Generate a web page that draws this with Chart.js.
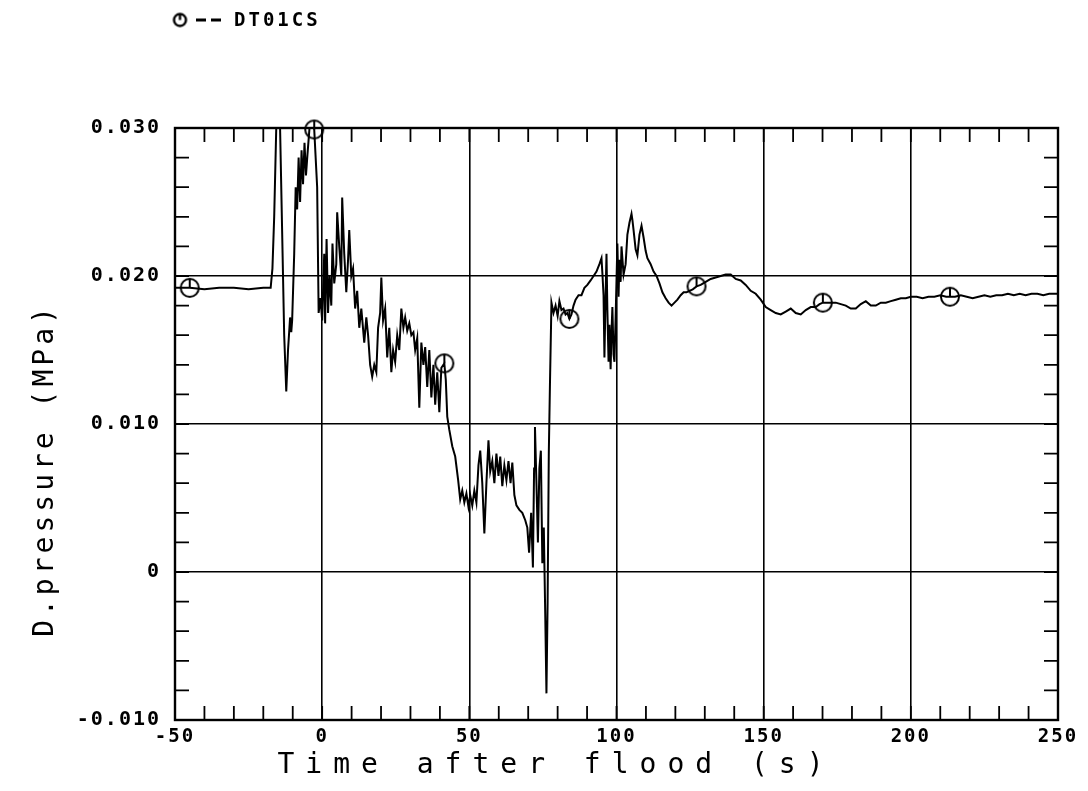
<!DOCTYPE html>
<html>
<head>
<meta charset="utf-8">
<script src="https://cdn.jsdelivr.net/npm/chart.js@4/dist/chart.umd.min.js"></script>
<style>
  html, body { margin: 0; background: #fff; }
  #wrap { width: 1088px; height: 791px; position: relative; }
</style>
</head>
<body>
<div id="wrap"><canvas id="ctx"></canvas></div>
<script>
// DT01CS differential pressure trace, time in s, pressure in MPa
const timeSec = [
  -50, -45, -40, -35, -30, -25, -20, -17.5, -16.9, -16.3, -15.6, -15.0, -14.3, -13.6, -12.9, -12.2,
  -11.6, -10.9, -10.5, -10.2, -9.5, -9.0, -8.5, -8.0, -7.5, -7.0, -6.5, -6.0, -5.5, -5.0, -4.3, -3.8,
  -2.7, -1.7, -1.2, -0.6, 0, 0.7, 1.0, 1.5, 2.0, 2.5, 3.1, 3.5, 4.1, 4.8, 5.1, 5.8,
  6.5, 6.8, 7.5, 8.2, 8.8, 9.2, 9.9, 10.5, 11.2, 11.9, 12.6, 13.3, 14.3, 15.0, 15.6, 16.3,
  17.0, 17.7, 18.4, 19.0, 19.7, 20.1, 20.7, 21.4, 22.1, 22.8, 23.5, 24.1, 24.8, 25.5, 26.2, 26.9,
  27.6, 28.2, 28.9, 29.6, 30.3, 31.0, 31.6, 32.3, 33.0, 33.7, 34.4, 35.0, 35.7, 36.4, 37.1, 37.8,
  38.4, 39.1, 39.8, 40.5, 41.5, 42.0, 42.5, 43.2, 44.2, 45.2, 46.2, 46.9, 47.6, 48.3, 49.0, 49.7,
  50.3, 51.0, 51.7, 52.4, 53.1, 53.7, 54.4, 55.1, 55.8, 56.5, 57.1, 57.8, 58.5, 59.2, 59.9, 60.5,
  61.2, 61.9, 62.6, 63.3, 64.0, 64.6, 65.3, 66.0, 67.0, 68.0, 69.0, 69.7, 70.3, 71.0, 71.6, 72.0,
  72.3, 72.8, 73.3, 73.8, 74.3, 74.8, 75.3, 75.8, 76.2, 76.6, 77.0, 77.4, 77.9, 78.6, 79.3, 80.0,
  80.6, 81.3, 82.0, 82.7, 83.3, 84.0, 84.7, 85.4, 86.1, 87.1, 88.1, 89.1, 90.1, 91.2, 92.2, 93.2,
  94.2, 94.9, 95.2, 95.6, 95.9, 96.3, 96.6, 96.9, 97.3, 97.6, 98.0, 98.3, 98.6, 99.0, 99.3, 99.7,
  100.3, 100.7, 101.0, 101.4, 101.7, 102.4, 103.1, 103.7, 104.4, 105.1, 105.4, 105.8, 106.5, 107.1, 107.8, 108.5,
  109.2, 109.9, 110.5, 111.6, 112.6, 113.6, 114.6, 115.6, 116.7, 117.7, 118.7, 119.7, 120.7, 121.8, 122.8, 123.8,
  124.8, 125.9, 127.2, 128.6, 130.3, 132.0, 133.7, 135.4, 137.1, 138.8, 140.5, 142.2, 143.9, 145.6, 147.3, 149.0,
  150.7, 152.4, 154.1, 155.8, 157.5, 159.2, 160.9, 162.6, 164.3, 166.0, 167.7, 169.0, 170.1, 171.1, 172.8, 174.5,
  176.2, 177.9, 179.6, 181.3, 183.0, 184.7, 186.4, 188.1, 189.8, 191.5, 193.2, 194.9, 196.6, 198.3, 200.0, 202,
  204, 206, 208, 210, 212, 213.3, 215, 217, 219, 221, 223, 225, 227, 229, 231, 233,
  235, 237, 239, 241, 243, 245, 247, 249, 250
]
const dpMPa = [
  0.0192, 0.0192, 0.0191, 0.0192, 0.0192, 0.0191, 0.0192, 0.0192, 0.0205, 0.0240, 0.0300, 0.0312, 0.0300, 0.0230, 0.0160, 0.0122,
  0.0150, 0.0172, 0.0162, 0.0170, 0.0215, 0.0260, 0.0245, 0.0280, 0.0250, 0.0285, 0.0262, 0.0290, 0.0268, 0.0282, 0.0300, 0.0312,
  0.0299, 0.0260, 0.0175, 0.0185, 0.0170, 0.0215, 0.0168, 0.0225, 0.0175, 0.0200, 0.0180, 0.0222, 0.0195, 0.0208, 0.0243, 0.0220,
  0.0200, 0.0253, 0.0215, 0.0189, 0.0211, 0.0231, 0.0200, 0.0205, 0.0178, 0.0190, 0.0165, 0.0178, 0.0155, 0.0172, 0.0160, 0.0140,
  0.0132, 0.0140, 0.0135, 0.0165, 0.0175, 0.0199, 0.0170, 0.0178, 0.0145, 0.0165, 0.0135, 0.0150, 0.0142, 0.0160, 0.0150, 0.0178,
  0.0165, 0.0172, 0.0163, 0.0168, 0.0160, 0.0162, 0.0150, 0.0158, 0.0111, 0.0155, 0.0140, 0.0152, 0.0125, 0.0150, 0.0118, 0.0140,
  0.0113, 0.0135, 0.0108, 0.0138, 0.0141, 0.0130, 0.0105, 0.0096, 0.0085, 0.0078, 0.0062, 0.0049, 0.0055, 0.0047, 0.0053, 0.0044,
  0.0052, 0.0045, 0.0055, 0.0047, 0.0072, 0.0082, 0.0060, 0.0026, 0.0060, 0.0089, 0.0068, 0.0075, 0.0060, 0.0080, 0.0065, 0.0078,
  0.0058, 0.0072, 0.0062, 0.0075, 0.0060, 0.0074, 0.0052, 0.0045, 0.0042, 0.0040, 0.0035, 0.0030, 0.0013, 0.0040, 0.0003, 0.0070,
  0.0098, 0.0060, 0.0020, 0.0070, 0.0082, 0.0006, 0.0030, -0.0030, -0.0082, -0.0020, 0.0080, 0.0128, 0.0182, 0.0175, 0.0180, 0.0173,
  0.0183, 0.0177, 0.0178, 0.0174, 0.0175, 0.0171, 0.0174, 0.0180, 0.0184, 0.0187, 0.0187, 0.0192, 0.0194, 0.0197, 0.0200, 0.0203,
  0.0208, 0.0212, 0.0202, 0.0187, 0.0145, 0.0187, 0.0215, 0.0177, 0.0142, 0.0167, 0.0137, 0.0162, 0.0179, 0.0147, 0.0142, 0.0172,
  0.0222, 0.0186, 0.0211, 0.0196, 0.0220, 0.0201, 0.0208, 0.0228, 0.0236, 0.0242, 0.0238, 0.0231, 0.0218, 0.0214, 0.0228, 0.0234,
  0.0226, 0.0217, 0.0212, 0.0208, 0.0203, 0.0200, 0.0195, 0.0189, 0.0185, 0.0182, 0.0180, 0.0182, 0.0184, 0.0187, 0.0189, 0.0189,
  0.0190, 0.0191, 0.0193, 0.0194, 0.0196, 0.0198, 0.0199, 0.0200, 0.0201, 0.0201, 0.0198, 0.0197, 0.0194, 0.0190, 0.0188, 0.0184,
  0.0179, 0.0177, 0.0175, 0.0174, 0.0176, 0.0178, 0.0175, 0.0174, 0.0177, 0.0179, 0.0179, 0.0181, 0.0182, 0.0182, 0.0182, 0.0182,
  0.0181, 0.0180, 0.0178, 0.0178, 0.0181, 0.0183, 0.0180, 0.0180, 0.0182, 0.0182, 0.0183, 0.0184, 0.0185, 0.0185, 0.0186, 0.0186,
  0.0185, 0.0186, 0.0186, 0.0187, 0.0186, 0.0186, 0.0186, 0.0187, 0.0186, 0.0185, 0.0186, 0.0187, 0.0186, 0.0187, 0.0187, 0.0188,
  0.0187, 0.0188, 0.0187, 0.0188, 0.0188, 0.0187, 0.0188, 0.0188, 0.0188
]
// symbol positions along the trace
const markerTimes = [-45, -2.7, 41.5, 84.0, 127.2, 170.1, 213.3]

const seriesName = 'DT01CS'
const xMajor = [-50, 0, 50, 100, 150, 200, 250]
const yMajor = [-0.01, 0, 0.01, 0.02, 0.03]
const yTickText = ['-0.010', '0', '0.010', '0.020', '0.030']
const xTitle = 'Time after flood (s)'
const yTitle = 'D.pressure (MPa)'

const FONT = '"DejaVu Sans Mono", monospace'

// circle with a short stroke from the top down to the centre
function makeSymbol(r, lw) {
  const c = document.createElement('canvas')
  const s = Math.ceil(2 * r + lw * 2)
  c.width = s
  c.height = s
  const g = c.getContext('2d')
  g.strokeStyle = '#000'
  g.lineWidth = lw
  g.beginPath()
  g.arc(s / 2, s / 2, r, 0, Math.PI * 2)
  g.stroke()
  g.beginPath()
  g.moveTo(s / 2, s / 2 - r)
  g.lineTo(s / 2, s / 2)
  g.stroke()
  return c
}
const plotSymbol = makeSymbol(9, 2)
const keySymbol = makeSymbol(6, 2.4)

const linePts = timeSec.map((t, i) => ({x: t, y: dpMPa[i]}))
const markPts = markerTimes.map(t => ({x: t, y: dpMPa[timeSec.indexOf(t)]}))

const isMajorY = v => yMajor.some(m => Math.abs(m - v) < 1e-9)
const isMajorX = v => xMajor.includes(Math.round(v))

const frame = {
  id: 'frame',
  beforeDraw(chart) {
    chart.ctx.letterSpacing = '2px'
  },
  afterDraw(chart) {
    const {ctx, chartArea: a, scales} = chart
    const {x: xs, y: ys} = scales
    const tl = 14
    ctx.save()
    ctx.strokeStyle = '#000'
    ctx.lineWidth = 1.8
    ctx.beginPath()
    xs.ticks.forEach(t => {
      const px = xs.getPixelForValue(t.value)
      ctx.moveTo(px, a.bottom)
      ctx.lineTo(px, a.bottom - tl)
      ctx.moveTo(px, a.top)
      ctx.lineTo(px, a.top + tl)
    })
    ys.ticks.forEach(t => {
      const py = ys.getPixelForValue(t.value)
      ctx.moveTo(a.left, py)
      ctx.lineTo(a.left + tl, py)
      ctx.moveTo(a.right, py)
      ctx.lineTo(a.right - tl, py)
    })
    ctx.stroke()

    ctx.lineWidth = 2.4
    ctx.strokeRect(a.left, a.top, a.right - a.left, a.bottom - a.top)

    // key at the top left
    ctx.drawImage(keySymbol, 180 - keySymbol.width / 2, 20 - keySymbol.height / 2)
    ctx.lineWidth = 3
    ctx.beginPath()
    ctx.moveTo(196, 20); ctx.lineTo(206, 20)
    ctx.moveTo(211, 20); ctx.lineTo(221, 20)
    ctx.stroke()
    ctx.fillStyle = '#000'
    ctx.letterSpacing = '3px'
    ctx.font = 'bold 19px ' + FONT
    ctx.textAlign = 'left'
    ctx.textBaseline = 'middle'
    ctx.fillText(seriesName, 234, 21)

    // axis titles
    ctx.font = '28px ' + FONT
    ctx.textAlign = 'center'
    ctx.letterSpacing = '11px'
    ctx.fillText(xTitle, 556, 766)
    ctx.save()
    ctx.translate(46, 472)
    ctx.rotate(-Math.PI / 2)
    ctx.letterSpacing = '4px'
    ctx.fillText(yTitle, 2, 0)
    ctx.restore()
    ctx.restore()
  }
}

new Chart(document.getElementById('ctx'), {
  type: 'scatter',
  data: {
    datasets: [{
      data: linePts,
      showLine: true,
      borderColor: '#000',
      borderWidth: 2,
      pointRadius: 0,
      tension: 0,
      clip: 0
    }, {
      data: markPts,
      showLine: false,
      pointStyle: plotSymbol,
      pointRadius: 9,
      clip: false
    }]
  },
  options: {
    responsive: true,
    maintainAspectRatio: false,
    animation: false,
    layout: {padding: {top: 128, right: 30, left: 0, bottom: 0}},
    plugins: {
      legend: {display: false},
      tooltip: {enabled: false}
    },
    scales: {
      x: {
        type: 'linear',
        min: -50,
        max: 250,
        afterFit: s => { s.height = 71 },
        border: {display: false},
        grid: {
          drawTicks: false,
          lineWidth: 1.6,
          color: c => (c.tick && isMajorX(c.tick.value)) ? '#000' : 'rgba(0,0,0,0)'
        },
        ticks: {
          stepSize: 10,
          autoSkip: false,
          maxRotation: 0,
          padding: 6,
          color: '#000',
          font: {family: FONT, size: 19, weight: 'bold'},
          callback: v => isMajorX(v) ? String(Math.round(v)) : ''
        }
      },
      y: {
        type: 'linear',
        min: -0.01,
        max: 0.03,
        afterFit: s => { s.width = 175 },
        border: {display: false},
        grid: {
          drawTicks: false,
          lineWidth: 1.6,
          color: c => (c.tick && isMajorY(c.tick.value)) ? '#000' : 'rgba(0,0,0,0)'
        },
        ticks: {
          stepSize: 0.002,
          autoSkip: false,
          padding: 14,
          color: '#000',
          font: {family: FONT, size: 20, weight: 'bold'},
          callback: v => {
            const i = yMajor.findIndex(m => Math.abs(m - v) < 1e-9)
            return i >= 0 ? yTickText[i] : ''
          }
        }
      }
    }
  },
  plugins: [frame]
})
</script>
</body>
</html>
